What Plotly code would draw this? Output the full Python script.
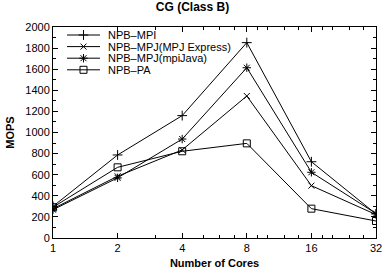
import plotly.graph_objects as go

cores = [1, 2, 4, 8, 16, 32]
tick_labels = ["1", "2", "4", "8", "16", "32"]
npb_mpi = [300, 787, 1160, 1852, 723, 228]
npb_mpj_express = [278, 585, 835, 1346, 496, 222]
npb_mpj_mpijava = [268, 570, 938, 1614, 623, 232]
npb_pa = [292, 670, 822, 897, 278, 161]
series_names = ["NPB\u2013MPI", "NPB\u2013MPJ(MPJ Express)", "NPB\u2013MPJ(mpiJava)", "NPB\u2013PA"]
x_minor = [3, 5, 6, 7, 9, 10, 12, 14, 18, 20, 24, 28]

symbols = ["cross-thin-open", "x-thin-open", "asterisk-open", "square-open"]
sizes = [7, 6, 7, 7]

# plot area in pixels
W, H = 385, 271
ML, MR, MT, MB = 53, 9, 27, 33
PW, PH = W - ML - MR, H - MT - MB

# legend layout (pixels from plot top-left)
leg_x0, leg_x1, leg_tx = 14, 47, 53
leg_y0, leg_dy = 8, 11.6

fig = go.Figure()
all_vals = [npb_mpi, npb_mpj_express, npb_mpj_mpijava, npb_pa]
for i, (name, vals, sym, sz) in enumerate(zip(series_names, all_vals, symbols, sizes)):
    fig.add_trace(go.Scatter(
        x=cores, y=vals, name=name, mode="lines+markers", showlegend=False,
        line=dict(color="black", width=1),
        marker=dict(symbol=sym, size=sz, color="black", line=dict(color="black", width=1)),
    ))
    ly = leg_y0 + i * leg_dy
    fig.add_trace(go.Scatter(
        x=[leg_x0, (leg_x0 + leg_x1) / 2, leg_x1], y=[ly, ly, ly], xaxis="x2", yaxis="y2",
        mode="lines", line=dict(color="black", width=1), showlegend=False, hoverinfo="skip"))
    fig.add_trace(go.Scatter(
        x=[(leg_x0 + leg_x1) / 2], y=[ly], xaxis="x2", yaxis="y2", mode="markers",
        marker=dict(symbol=sym, size=sz, color="black", line=dict(color="black", width=1)),
        showlegend=False, hoverinfo="skip"))
    fig.add_annotation(x=leg_tx, y=ly, xref="x2", yref="y2", text=name, showarrow=False,
                       xanchor="left", yanchor="middle", font=dict(size=11))

font = "Liberation Sans, Arial, Helvetica, sans-serif"
fig.update_layout(
    template="none",
    width=W, height=H,
    margin=dict(l=ML, r=MR, t=MT, b=MB, autoexpand=False),
    paper_bgcolor="white", plot_bgcolor="white",
    font=dict(family=font, size=11, color="black"),
    title=dict(text="<b>CG (Class B)</b>", x=0.5, xanchor="center", y=0.99, yanchor="top",
               font=dict(size=12, family=font)),
    showlegend=False,
    xaxis=dict(type="log", range=[0, 1.50515], tickvals=cores, ticktext=tick_labels,
               ticks="inside", ticklen=5, tickcolor="black", showline=True, linecolor="black",
               linewidth=1, mirror="allticks", showgrid=False, zeroline=False, automargin=False,
               title=dict(text="<b>Number of Cores</b>", standoff=6, font=dict(size=11)),
               minor=dict(tickvals=x_minor, ticks="inside", ticklen=3, tickcolor="black", showgrid=False)),
    yaxis=dict(range=[0, 2000], dtick=200, ticks="inside", ticklen=5, tickcolor="black",
               showline=True, linecolor="black", linewidth=1, mirror="allticks",
               showgrid=False, zeroline=False, automargin=False,
               title=dict(text="<b>MOPS</b>", standoff=8, font=dict(size=11)),
               minor=dict(dtick=100, ticks="inside", ticklen=3, tickcolor="black", showgrid=False)),
    xaxis2=dict(overlaying="x", range=[0, PW], visible=False, fixedrange=True),
    yaxis2=dict(overlaying="y", range=[PH, 0], visible=False, fixedrange=True),
)
fig.write_html("out.html", config={"displayModeBar": False},
               post_script="document.body.style.margin='0';")
